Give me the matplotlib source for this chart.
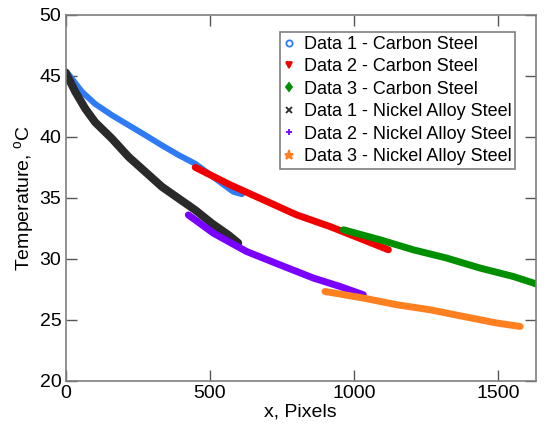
import matplotlib
matplotlib.use("Agg")
import matplotlib.pyplot as plt
from matplotlib.lines import Line2D

plt.rcParams['font.family'] = ['Liberation Sans', 'DejaVu Sans']

# Data (x in pixels, temperature in deg C)
cs1_x = [0, 5, 57, 103, 161, 219, 277, 335, 393, 450, 582, 612]
cs1_y = [45.35, 45.3, 43.7, 42.7, 41.78, 40.96, 40.14, 39.3, 38.5, 37.8, 35.5, 35.3]

cs2_x = [450, 571, 686, 802, 917, 1033, 1120]
cs2_y = [37.5, 36.07, 34.84, 33.6, 32.65, 31.56, 30.74]

cs3_x = [964, 1091, 1206, 1322, 1438, 1553, 1634]
cs3_y = [32.38, 31.56, 30.74, 30.06, 29.24, 28.55, 27.93]

na1_x = [0, 5, 34, 69, 103, 161, 219, 277, 335, 393, 450, 508, 566, 599]
na1_y = [45.3, 45.06, 43.7, 42.3, 41.2, 39.86, 38.36, 37.13, 35.9, 34.94, 34.0, 32.9, 31.94, 31.3]

na2_x = [426, 513, 628, 744, 860, 952, 1033]
na2_y = [33.6, 32.1, 30.6, 29.5, 28.42, 27.73, 27.05]

na3_x = [900, 1033, 1149, 1264, 1380, 1496, 1577]
na3_y = [27.32, 26.78, 26.23, 25.82, 25.27, 24.73, 24.45]

labels = ["Data 1 - Carbon Steel", "Data 2 - Carbon Steel", "Data 3 - Carbon Steel",
          "Data 1 - Nickel Alloy Steel", "Data 2 - Nickel Alloy Steel",
          "Data 3 - Nickel Alloy Steel"]
colors = ["#2f7bf5", "#f00000", "#008f00", "#2a2a2a", "#7a00ff", "#ff8020"]
markers = ["o", "v", "d", "x", "+", "*"]
widths = [4.3, 5.0, 5.0, 5.8, 5.0, 5.0]

series = [(cs1_x, cs1_y), (cs2_x, cs2_y), (cs3_x, cs3_y),
          (na1_x, na1_y), (na2_x, na2_y), (na3_x, na3_y)]

fig = plt.figure(figsize=(5.44, 4.37), dpi=100)
ax = fig.add_axes([65.5 / 544, 1 - 380.7 / 437, (536 - 65.5) / 544, (380.7 - 15) / 437])

for (x, y), c, w in zip(series, colors, widths):
    ax.plot(x, y, color=c, lw=w, solid_capstyle='round', solid_joinstyle='round')

ax.set_xlim(0, 1632)
ax.set_ylim(20, 50)
ax.set_xticks([0, 500, 1000, 1500])
ax.set_yticks([20, 25, 30, 35, 40, 45, 50])

for s in ax.spines.values():
    s.set_color('#7f7f7f')
    s.set_linewidth(1.2)
ax.tick_params(direction='in', length=8, width=1, colors='#555555', labelcolor='black',
               labelsize=14, top=True, right=True, pad=3)

ax.set_xlabel("x, Pixels", fontsize=14, labelpad=1)
ax.set_ylabel(r"Temperature, $^\mathregular{o}$C", fontsize=14, labelpad=2)

handles = []
for lab, c, m in zip(labels, colors, markers):
    mfc = 'none' if m == 'o' else c
    handles.append(Line2D([], [], ls='none', marker=m, color=c, markerfacecolor=mfc,
                          markersize=4.5 if m != '*' else 6.5, markeredgewidth=1.3))

leg = ax.legend(handles, labels, loc='upper right',
                bbox_to_anchor=(515 / 544, 1 - 32.3 / 437), bbox_transform=fig.transFigure,
                borderaxespad=0, fontsize=13, fancybox=False, framealpha=1,
                edgecolor='#7f7f7f', handlelength=0.6, handletextpad=0.5,
                labelspacing=0.3, borderpad=0.2)
leg.get_frame().set_linewidth(1.2)

fig.savefig("out.png", dpi=100)
